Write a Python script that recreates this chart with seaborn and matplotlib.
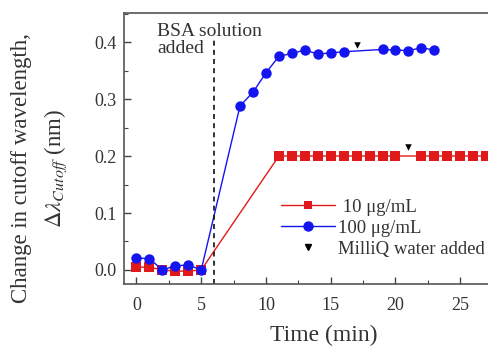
import numpy as np
import pandas as pd
import seaborn as sns
import matplotlib.pyplot as plt
from matplotlib.ticker import MultipleLocator, FixedLocator
from matplotlib.lines import Line2D

# 10 ug/mL series
t_10 = [0, 1, 2, 3, 4, 5, 11, 12, 13, 14, 15, 16, 17, 18, 19, 20,
        22, 23, 24, 25, 26, 27, 28, 29]
d_10 = [0.005, 0.005, 0.0, -0.002, -0.002, 0.0, 0.2, 0.2, 0.2, 0.2, 0.2, 0.2, 0.2, 0.2, 0.2, 0.2,
        0.2, 0.2, 0.2, 0.2, 0.2, 0.2, 0.2, 0.2]

# 100 ug/mL series
t_100 = [0, 1, 2, 3, 4, 5, 8, 9, 10, 11, 12, 13, 14, 15, 16,
         19, 20, 21, 22, 23]
d_100 = [0.021, 0.02, 0.0, 0.007, 0.009, 0.0, 0.288, 0.312, 0.346, 0.375, 0.38, 0.386, 0.379, 0.381, 0.383,
         0.387, 0.386, 0.385, 0.39, 0.386]

# MilliQ water added markers
t_water = [17, 21]
d_water = [0.395, 0.215]

bsa_time = 6
xticks = [0, 5, 10, 15, 20, 25]

sns.set_theme(style="ticks")
plt.rcParams['font.family'] = ['Liberation Serif', 'DejaVu Serif']
plt.rcParams['mathtext.fontset'] = 'stix'

red = '#e01a1a'
blue = '#1414f0'
txt = '#333333'

fig = plt.figure(figsize=(4.88, 3.47), dpi=100)
# axis runs past the right edge of the picture (cropped figure)
ax = fig.add_axes([123.5 / 488, 1 - 284 / 347, (31 * 12.95) / 488, (284 - 13) / 347])

df10 = pd.DataFrame({'t': t_10, 'd': d_10})
df100 = pd.DataFrame({'t': t_100, 'd': d_100})
dfw = pd.DataFrame({'t': t_water, 'd': d_water})

sns.lineplot(data=df10, x='t', y='d', color=red, marker='s', markersize=6.5,
             markeredgewidth=0, linewidth=1, estimator=None, ax=ax)
sns.lineplot(data=df100, x='t', y='d', color=blue, marker='o', markersize=7.5,
             markeredgewidth=0, linewidth=1, estimator=None, ax=ax)
sns.scatterplot(data=dfw, x='t', y='d', color='black', marker='v', s=22,
                linewidth=0, ax=ax, zorder=5)

# dashed marker for BSA addition, stops just under the annotation
ax.axvline(bsa_time, ymin=0, ymax=0.9, color='#111111', linestyle=(0, (3, 2.5)), linewidth=1.2)
ax.text(1.6, 0.434, 'BSA solution\nadded', fontsize=14, va='top', ha='left',
        color=txt, linespacing=1.0)

ax.set_xlim(-1, 30)
ax.set_ylim(-0.0246, 0.451)
ax.xaxis.set_major_locator(FixedLocator(xticks))
ax.xaxis.set_minor_locator(MultipleLocator(2.5))
ax.yaxis.set_major_locator(MultipleLocator(0.1))
ax.yaxis.set_minor_locator(MultipleLocator(0.05))
ax.yaxis.set_major_formatter(plt.FormatStrFormatter('%.1f'))
ax.tick_params(which='both', direction='in', colors='#444444', labelcolor=txt,
               labelsize=13, top=False, right=False)
ax.tick_params(axis='x', which='major', pad=9)
ax.tick_params(axis='y', which='major', pad=5)
ax.tick_params(which='major', length=5, width=1)
ax.tick_params(which='minor', length=3, width=0.8)
for s in ax.spines.values():
    s.set_color('#555555')
    s.set_linewidth(1.2)

ax.set_xlabel('Time (min)', fontsize=17, color=txt, labelpad=8)
ax.set_ylabel('')
fig.text(40 / 488, 1 - 168 / 347,
         'Change in cutoff wavelength,\n' + r'$\Delta\lambda_{Cutoff}$ (nm)',
         fontsize=16.5, color=txt, rotation=90, ha='center', va='center',
         linespacing=1.6, multialignment='center')

handles = [
    Line2D([], [], color=red, marker='s', markersize=6, markeredgewidth=0, linewidth=1),
    Line2D([], [], color=blue, marker='o', markersize=7.5, markeredgewidth=0, linewidth=1),
    Line2D([], [], color='black', marker='v', markersize=5, linestyle='None'),
]
fig.legend(handles, [' 10 μg/mL', '100 μg/mL', 'MilliQ water added'],
           loc='upper left', bbox_to_anchor=(264 / 488, 1 - 182 / 347),
           frameon=False, fontsize=13.5, handlelength=2.9, handletextpad=0.15,
           labelspacing=0.2, labelcolor=txt)

plt.savefig('out.png', dpi=100)
